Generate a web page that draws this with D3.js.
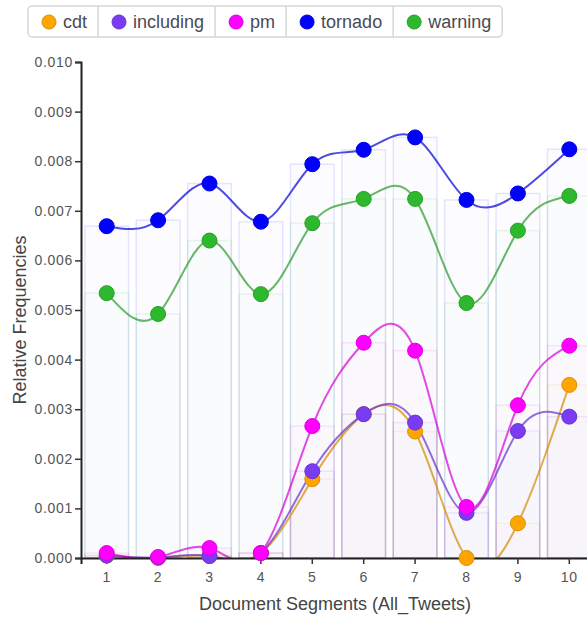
<!DOCTYPE html>
<html>
<head>
<meta charset="utf-8">
<script src="https://cdn.jsdelivr.net/npm/d3@7"></script>
<style>
  body { margin: 0; background: #fff; }
  svg { display: block; font-family: "Liberation Sans", Arial, sans-serif; }
  .tick text { fill: #555; }
</style>
</head>
<body>
<div id="chart"></div>
<script>
// segments and series
const segments = [1, 2, 3, 4, 5, 6, 7, 8, 9, 10];
const seriesNames = ["cdt", "including", "pm", "tornado", "warning"];
const seriesColors = ["#ffa500", "#7a3cf2", "#ff00ff", "#0000ff", "#2db82d"];

const cdt       = [0.00005, 0.00000, 0.00004, 0.00010, 0.00159, 0.00290, 0.00255, 0.00000, 0.00070, 0.00349];
const including = [0.00005, 0.00001, 0.00004, 0.00010, 0.00175, 0.00290, 0.00273, 0.00091, 0.00256, 0.00285];
const pm        = [0.00010, 0.00002, 0.00020, 0.00010, 0.00266, 0.00434, 0.00418, 0.00103, 0.00308, 0.00428];
const tornado   = [0.00669, 0.00681, 0.00755, 0.00678, 0.00794, 0.00823, 0.00848, 0.00722, 0.00735, 0.00824];
const warning   = [0.00534, 0.00492, 0.00640, 0.00532, 0.00675, 0.00724, 0.00724, 0.00514, 0.00660, 0.00730];

const yTicks = [0, 0.001, 0.002, 0.003, 0.004, 0.005, 0.006, 0.007, 0.008, 0.009, 0.010];

const seriesValues = [cdt, including, pm, tornado, warning];
const series = seriesNames.map((name, i) => ({
    name: name,
    color: seriesColors[i],
    values: seriesValues[i].map((v, j) => ({ seg: segments[j], value: v }))
}));

const width = 587, height = 617;
const plot = { left: 81, right: 595, top: 62, bottom: 558 };

const svg = d3.select("#chart").append("svg")
    .attr("width", width)
    .attr("height", height);

const x = d3.scaleBand()
    .domain(segments)
    .range([plot.left, plot.right])
    .paddingInner(0.15)
    .paddingOuter(0.075);

const y = d3.scaleLinear()
    .domain([0, 0.010])
    .range([plot.bottom, plot.top]);

svg.append("clipPath").attr("id", "plot-clip")
    .append("rect")
    .attr("x", plot.left)
    .attr("y", plot.top - 10)
    .attr("width", plot.right - plot.left)
    .attr("height", plot.bottom - plot.top + 10);

// faint bars behind every point
const barGroup = svg.append("g").attr("class", "bars");
series.forEach(s => {
    barGroup.selectAll(null)
        .data(s.values)
        .enter()
        .append("rect")
        .attr("x", d => x(d.seg))
        .attr("y", d => y(d.value))
        .attr("width", x.bandwidth())
        .attr("height", d => plot.bottom - y(d.value))
        .attr("fill", s.color)
        .attr("fill-opacity", 0.012)
        .attr("stroke", s.color)
        .attr("stroke-opacity", 0.1)
        .attr("stroke-width", 1.5);
});

// smooth lines
const line = d3.line()
    .x(d => x(d.seg) + x.bandwidth() / 2)
    .y(d => y(d.value))
    .curve(d3.curveNatural);

const lineGroup = svg.append("g").attr("clip-path", "url(#plot-clip)");
series.forEach(s => {
    lineGroup.append("path")
        .datum(s.values)
        .attr("fill", "none")
        .attr("stroke", d3.color(s.color).darker(0.5))
        .attr("stroke-opacity", 0.7)
        .attr("stroke-width", 2)
        .attr("d", line);
});

// axes
const xAxis = svg.append("g")
    .attr("transform", `translate(0,${plot.bottom})`)
    .call(d3.axisBottom(x).tickSizeOuter(0).tickSize(6).tickPadding(8));

const yAxis = svg.append("g")
    .attr("transform", `translate(${plot.left},0)`)
    .call(d3.axisLeft(y).tickValues(yTicks).tickFormat(d3.format(".3f")).tickSize(6).tickPadding(2));

[xAxis, yAxis].forEach(a => {
    a.select(".domain").attr("stroke", "#222").attr("stroke-width", 2);
    a.selectAll(".tick line").attr("stroke", "#333").attr("stroke-width", 1.5);
    a.selectAll(".tick text").attr("font-size", 14).attr("letter-spacing", 0.7);
});

// points
const pointGroup = svg.append("g");
series.forEach(s => {
    pointGroup.selectAll(null)
        .data(s.values)
        .enter()
        .append("circle")
        .attr("cx", d => x(d.seg) + x.bandwidth() / 2)
        .attr("cy", d => y(d.value))
        .attr("r", 7.5)
        .attr("fill", s.color)
        .attr("stroke", d3.color(s.color).darker(0.4))
        .attr("stroke-width", 1);
});

// axis titles
svg.append("text")
    .attr("x", 335)
    .attr("y", 610)
    .attr("text-anchor", "middle")
    .attr("font-size", 18)
    .attr("fill", "#444")
    .text("Document Segments (All_Tweets)");

svg.append("text")
    .attr("transform", "translate(26,320) rotate(-90)")
    .attr("text-anchor", "middle")
    .attr("font-size", 18)
    .attr("fill", "#444")
    .text("Relative Frequencies");

// legend
const legend = svg.append("g").attr("class", "legend");
const legendBox = legend.append("rect")
    .attr("x", 28).attr("y", 6)
    .attr("height", 31)
    .attr("rx", 4)
    .attr("fill", "#fff")
    .attr("stroke", "#d6d6d6")
    .attr("stroke-width", 1.5);

let lx = 28;
series.forEach((s, i) => {
    if (i > 0) {
        legend.append("line")
            .attr("x1", lx).attr("x2", lx)
            .attr("y1", 6).attr("y2", 37)
            .attr("stroke", "#d6d6d6")
            .attr("stroke-width", 1.5);
    }
    legend.append("circle")
        .attr("cx", lx + 21).attr("cy", 22).attr("r", 7)
        .attr("fill", s.color)
        .attr("stroke", d3.color(s.color).darker(0.4));
    const t = legend.append("text")
        .attr("x", lx + 35).attr("y", 28)
        .attr("font-size", 18)
        .attr("fill", "#4a4a55")
        .text(s.name);
    lx += 35 + t.node().getComputedTextLength() + 11;
});
legendBox.attr("width", lx - 28);
</script>
</body>
</html>
